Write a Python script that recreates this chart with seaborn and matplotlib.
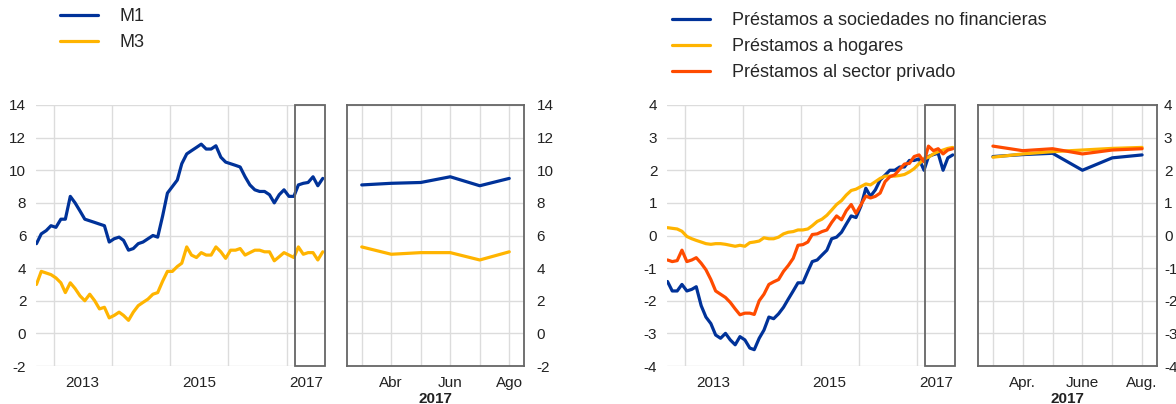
import numpy as np
import pandas as pd
import matplotlib
matplotlib.use('Agg')
import matplotlib.pyplot as plt
import matplotlib.dates as mdates
from matplotlib.patches import Rectangle
import seaborn as sns

sns.set_theme(style='white')
plt.rcParams['font.family'] = ['Liberation Sans', 'DejaVu Sans']

# --- datos (tasas de crecimiento interanual, %) ---
fechas = pd.date_range('2012-09-01', '2017-08-01', freq='MS') + pd.Timedelta(days=14)

m1 = [5.5, 6.1, 6.3, 6.6,
      6.5, 7.0, 7.0, 8.4, 8.0, 7.5, 7.0, 6.9, 6.8, 6.7, 6.6, 5.6,
      5.8, 5.9, 5.7, 5.1, 5.2, 5.5, 5.6, 5.8, 6.0, 5.9, 7.2, 8.6,
      9.0, 9.4, 10.4, 11.0, 11.2, 11.4, 11.6, 11.3, 11.3, 11.5, 10.8, 10.5,
      10.4, 10.3, 10.2, 9.6, 9.1, 8.8, 8.7, 8.7, 8.5, 8.0, 8.5, 8.8,
      8.4, 8.4, 9.1, 9.2, 9.25, 9.6, 9.05, 9.5]
m3 = [3.0, 3.8, 3.7, 3.6,
      3.4, 3.1, 2.5, 3.1, 2.75, 2.3, 2.0, 2.4, 2.0, 1.5, 1.6, 0.95,
      1.1, 1.3, 1.1, 0.8, 1.3, 1.7, 1.9, 2.1, 2.4, 2.5, 3.2, 3.8,
      3.8, 4.1, 4.3, 5.3, 4.8, 4.65, 4.95, 4.8, 4.8, 5.3, 5.0, 4.6,
      5.1, 5.1, 5.2, 4.8, 4.95, 5.1, 5.1, 5.0, 5.0, 4.45, 4.7, 4.95,
      4.8, 4.65, 5.3, 4.85, 4.95, 4.95, 4.5, 5.0]

prest_snf = [-1.41, -1.7, -1.7, -1.5,
             -1.7, -1.65, -1.57, -2.15, -2.5, -2.7, -3.05, -3.15, -3.0, -3.2, -3.35, -3.1,
             -3.2, -3.45, -3.5, -3.15, -2.9, -2.5, -2.55, -2.4, -2.2, -1.95, -1.7, -1.45,
             -1.45, -1.1, -0.8, -0.75, -0.6, -0.45, -0.1, -0.05, 0.1, 0.35, 0.6, 0.55,
             0.9, 1.45, 1.2, 1.4, 1.7, 1.85, 2.0, 2.0, 2.1, 2.1, 2.3, 2.3,
             2.35, 2.0, 2.42, 2.48, 2.52, 2.0, 2.38, 2.47]
prest_hog = [0.24, 0.22, 0.2, 0.13,
             -0.03, -0.1, -0.15, -0.2, -0.25, -0.27, -0.25, -0.25, -0.27, -0.3, -0.33, -0.3,
             -0.33, -0.22, -0.2, -0.17, -0.07, -0.1, -0.1, -0.05, 0.05, 0.1, 0.12, 0.17,
             0.17, 0.2, 0.3, 0.43, 0.5, 0.62, 0.78, 0.95, 1.07, 1.24, 1.38, 1.42,
             1.5, 1.58, 1.55, 1.65, 1.75, 1.82, 1.82, 1.82, 1.84, 1.87, 1.95, 2.05,
             2.2, 2.35, 2.4, 2.5, 2.57, 2.62, 2.67, 2.7]
prest_priv = [-0.75, -0.8, -0.77, -0.45,
              -0.8, -0.75, -0.68, -0.85, -1.05, -1.35, -1.7, -1.8, -1.9, -2.05, -2.25, -2.43,
              -2.38, -2.38, -2.42, -2.0, -1.8, -1.5, -1.42, -1.35, -1.1, -0.92, -0.7, -0.3,
              -0.28, -0.2, 0.03, 0.05, 0.12, 0.17, 0.4, 0.6, 0.48, 0.76, 0.95, 0.68,
              0.94, 1.21, 1.15, 1.2, 1.3, 1.65, 1.8, 1.86, 2.03, 2.19, 2.21, 2.42,
              2.47, 2.26, 2.74, 2.6, 2.66, 2.5, 2.62, 2.66]

etiquetas_izq = ['', 'Abr', '', 'Jun', '', 'Ago']
etiquetas_der = ['', 'Apr.', '', 'June', '', 'Aug.']
anios_etiqueta = ['2013', '2015', '2017']

AZUL, AMARILLO, NARANJA = '#003299', '#FFB400', '#FF4B00'
GRIS_REJILLA = '#dcdcdc'
GRIS_MARCO = '#666666'
LW = 2.3
N_ZOOM = 6
FS_TICK = 11


def largo(series):
    return pd.concat([pd.DataFrame({'fecha': fechas, 'valor': v, 'serie': k})
                      for k, v in series.items()], ignore_index=True)


def largo_zoom(series):
    return pd.concat([pd.DataFrame({'pos': np.arange(N_ZOOM), 'valor': v[-N_ZOOM:], 'serie': k})
                      for k, v in series.items()], ignore_index=True)


def panel_principal(ax, series, paleta, ylim, paso):
    sns.lineplot(data=largo(series), x='fecha', y='valor', hue='serie',
                 palette=paleta, linewidth=LW, ax=ax, legend=False)
    x0, x1 = pd.Timestamp('2012-09-12'), pd.Timestamp('2017-08-29')
    ax.set_xlim(x0, x1)
    ax.set_ylim(*ylim)
    ticks = np.arange(ylim[0], ylim[1] + 0.1, paso)
    ax.set_yticks(ticks)
    ax.set_yticklabels([f'{v:g}' for v in ticks])
    ax.set_xticks([pd.Timestamp(f'{a}-01-01') for a in range(2013, 2018)])
    ax.set_xticklabels([])
    ax.set_xticks([pd.Timestamp('2013-07-01'), pd.Timestamp('2015-07-01'),
                   pd.Timestamp('2017-05-01')], minor=True)
    ax.set_xticklabels(anios_etiqueta, minor=True)
    ax.grid(True, which='major', color=GRIS_REJILLA, lw=1)
    ax.tick_params(which='both', length=0, labelsize=FS_TICK, colors='#222222')
    ax.tick_params(axis='x', which='minor', pad=7)
    ax.tick_params(axis='y', pad=7)
    for s in ax.spines.values():
        s.set_visible(False)
    ax.set_xlabel('')
    ax.set_ylabel('')
    # recuadro del periodo ampliado
    r0 = mdates.date2num(pd.Timestamp('2017-02-24'))
    r1 = mdates.date2num(x1)
    ax.add_patch(Rectangle((r0, ylim[0]), r1 - r0, ylim[1] - ylim[0], fill=False,
                           ec=GRIS_MARCO, lw=1.3, zorder=5, clip_on=False))


def panel_zoom(ax, series, paleta, ylim, paso, etiquetas, pad):
    sns.lineplot(data=largo_zoom(series), x='pos', y='valor', hue='serie',
                 palette=paleta, linewidth=LW, ax=ax, legend=False)
    ax.set_xlim(-0.5, N_ZOOM - 0.5)
    ax.set_ylim(*ylim)
    ticks = np.arange(ylim[0], ylim[1] + 0.1, paso)
    ax.set_yticks(ticks)
    ax.set_yticklabels([f'{v:g}' for v in ticks])
    ax.set_xticks(np.arange(N_ZOOM))
    ax.set_xticklabels(etiquetas)
    ax.yaxis.tick_right()
    ax.grid(True, color=GRIS_REJILLA, lw=1)
    ax.tick_params(length=0, labelsize=FS_TICK, colors='#222222')
    ax.tick_params(axis='x', pad=7)
    ax.tick_params(axis='y', pad=pad)
    for s in ax.spines.values():
        s.set_color(GRIS_MARCO)
        s.set_linewidth(1.3)
    ax.set_xlabel('')
    ax.set_ylabel('')


W, H = 1176, 404
fig = plt.figure(figsize=(W / 100, H / 100), dpi=100)


def caja(x0, x1, y_top=105, y_bot=366):
    return [x0 / W, 1 - y_bot / H, (x1 - x0) / W, (y_bot - y_top) / H]


ax1 = fig.add_axes(caja(36, 325))
ax2 = fig.add_axes(caja(347, 524))
ax3 = fig.add_axes(caja(667, 955))
ax4 = fig.add_axes(caja(978, 1157))

series_izq = {'M1': m1, 'M3': m3}
pal_izq = {'M1': AZUL, 'M3': AMARILLO}
series_der = {'Préstamos a sociedades no financieras': prest_snf,
              'Préstamos a hogares': prest_hog,
              'Préstamos al sector privado': prest_priv}
pal_der = dict(zip(series_der, [AZUL, AMARILLO, NARANJA]))

panel_principal(ax1, series_izq, pal_izq, (-2, 14), 2)
panel_zoom(ax2, series_izq, pal_izq, (-2, 14), 2, etiquetas_izq, 9)
panel_principal(ax3, series_der, pal_der, (-4, 4), 1)
panel_zoom(ax4, series_der, pal_der, (-4, 4), 1, etiquetas_der, 5)

for xc in [435, 1067]:
    fig.text(xc / W, 1 - 399 / H, '2017', ha='center', va='center',
             fontsize=11, fontweight='bold', color='#222222')

# leyendas
for series, pal, x_leg, y_leg in [(series_izq, pal_izq, 60, 8), (series_der, pal_der, 672, 12)]:
    handles = [plt.Line2D([], [], color=pal[k], lw=LW) for k in series]
    fig.legend(handles, list(series), loc='upper left',
               bbox_to_anchor=(x_leg / W, 1 - y_leg / H), frameon=False,
               fontsize=13, handlelength=2.1, handletextpad=1.2,
               labelspacing=0.5, borderpad=0, borderaxespad=0)

fig.savefig('out.png', dpi=100)
